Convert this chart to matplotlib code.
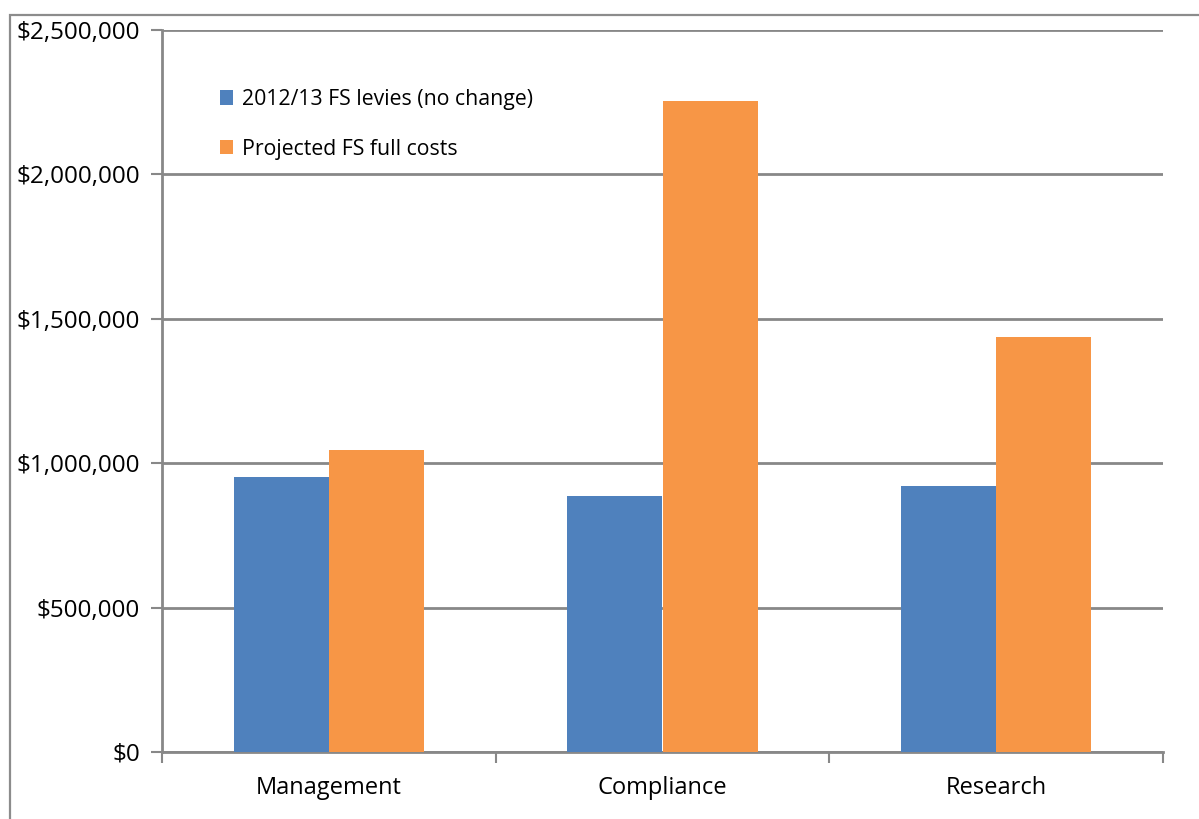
import matplotlib
matplotlib.use("Agg")
import matplotlib.pyplot as plt
from matplotlib.patches import Rectangle
from matplotlib.ticker import FuncFormatter
import numpy as np

categories = ["Management", "Compliance", "Research"]
levies_2012 = [952000, 886000, 921000]
projected_full = [1046000, 2254000, 1437000]
series_names = ["2012/13 FS levies (no change)", "Projected FS full costs"]
y_ticks = [0, 500000, 1000000, 1500000, 2000000, 2500000]

plt.rcParams["font.family"] = ["Open Sans", "DejaVu Sans"]

W, H = 1199, 819
fig = plt.figure(figsize=(W / 100, H / 100), dpi=100)
fig.patch.set_facecolor("white")

# outer chart frame (runs off the right and bottom edges)
fig.add_artist(Rectangle((9.5 / W, -0.05), 1.1, 1 - 15 / H + 0.05,
                         transform=fig.transFigure, fill=False,
                         edgecolor="#8c8c8c", linewidth=1.6, zorder=0))

ax = fig.add_axes([162 / W, 1 - 752 / H, (1163 - 162) / W, (752 - 30) / H])

grid_c = "#888888"
x = np.arange(len(categories))
w = 1 / 3.5
ax.bar(x - w / 2, levies_2012, w, color="#4F81BD", linewidth=0,
       label=series_names[0], zorder=3)
ax.bar(x + w / 2, projected_full, w, color="#F79646", linewidth=0,
       label=series_names[1], zorder=3)

ax.set_xlim(-0.5, len(categories) - 0.5)
ax.set_ylim(0, 2500000)
ax.set_yticks(y_ticks)
ax.yaxis.set_major_formatter(FuncFormatter(lambda v, p: f"${v:,.0f}"))
ax.yaxis.grid(True, color=grid_c, linewidth=2, zorder=0)
ax.set_axisbelow(True)

ax.set_xticks(x)
ax.set_xticklabels(categories)
ax.set_xticks(np.arange(-0.5, len(categories)), minor=True)
ax.tick_params(axis="x", which="major", length=0, pad=17, labelsize=17, colors="black")
ax.tick_params(axis="x", which="minor", length=8, width=1.5, color=grid_c, direction="out")
ax.tick_params(axis="y", length=8, width=1.5, color=grid_c, direction="out", pad=8,
               labelsize=17.5, labelcolor="black")

for s in ["top", "right"]:
    ax.spines[s].set_visible(False)
for s in ["left", "bottom"]:
    ax.spines[s].set_color(grid_c)
    ax.spines[s].set_linewidth(2)

leg = ax.legend(loc="upper left", bbox_to_anchor=(0.049, 0.93), frameon=False,
                fontsize=15.3, handlelength=0.65, handleheight=0.65, handletextpad=0.4,
                labelspacing=1.35, borderaxespad=0)

fig.savefig("out.png", dpi=100, facecolor="white")
